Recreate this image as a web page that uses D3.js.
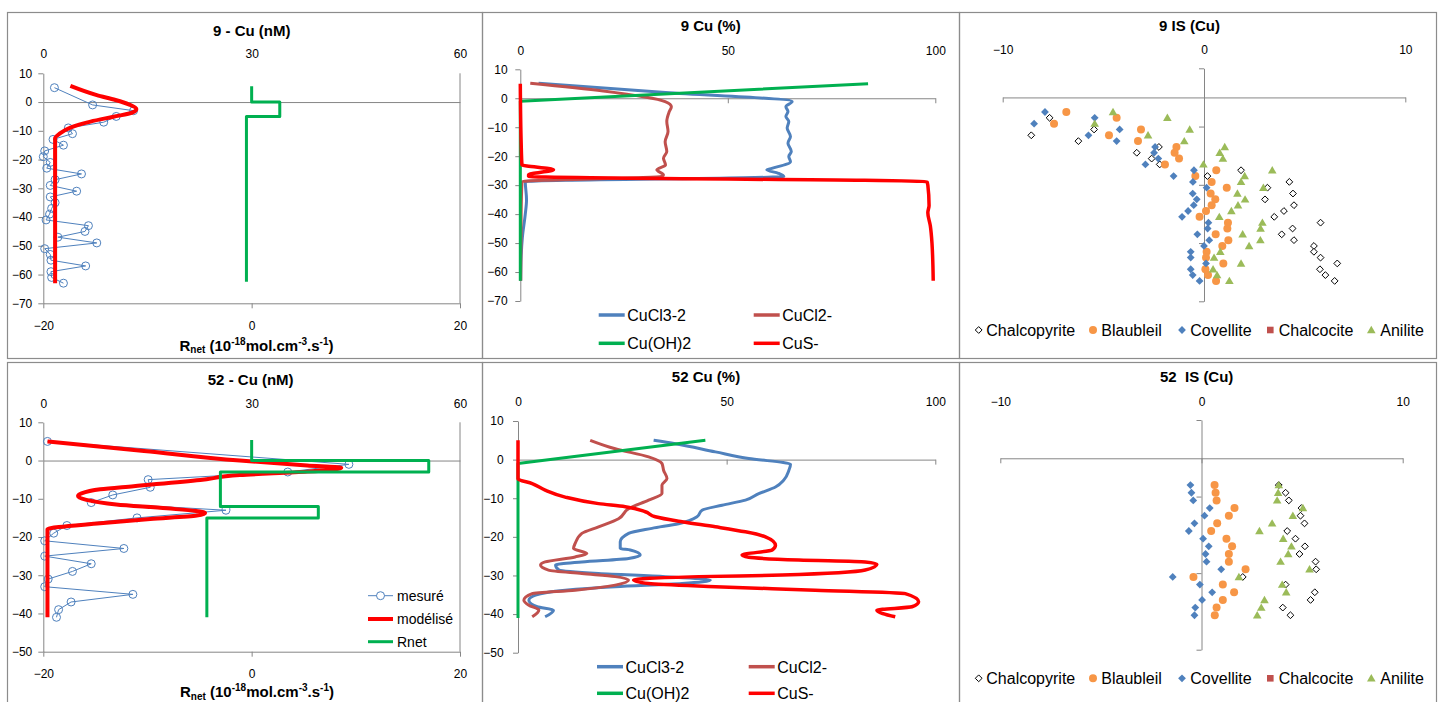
<!DOCTYPE html>
<html><head><meta charset="utf-8">
<script src="https://cdn.jsdelivr.net/npm/d3@7"></script>
<style>
html,body{margin:0;padding:0;background:#fff;}
svg{display:block;}
</style></head><body>
<script>
// ---------------- DATA ----------------
// Panel "9 - Cu (nM)"
const cu9MeasDepth = [5,-1,-3,-5,-7,-9,-11,-13,-15,-17,-19,-21,-23,-25,-27,-29,-31,-33,-35,-37,-39,-41,-43,-45,-47,-49,-51,-53,-55,-57,-59,-61,-63];
const cu9MeasNM = [1.6,7.1,13,10.5,8.7,3.6,4.2,1.4,2.9,0.2,0,1.0,0.5,5.5,1.7,1.0,4.8,1.0,1.7,1.2,0.9,0.4,6.5,6.0,2.1,7.7,0.2,1.0,1.1,6.1,1.1,1.2,2.9];
const cu9Model = [[3.9,5.6],[7.7,2.4],[10.4,0.7],[12.3,-0.8],[13.4,-2.4],[12.8,-3.7],[10.1,-5.1],[6.8,-6.8],[3.9,-8.9],[2.4,-10.9],[1.7,-12.6],[1.7,-30],[1.7,-63]];
const cu9Rnet = [[0,5.5],[0,0],[2.7,0],[2.7,-5],[-0.5,-5],[-0.5,-62.5]];

// Panel "52 - Cu (nM)"
const cu52MeasDepth = [5,-1,-3,-5,-7,-9,-11,-13,-15,-17,-19,-21,-23,-25,-27,-29,-31,-33,-35,-37,-39,-41];
const cu52MeasNM = [0.6,44,35.2,15.1,15.4,10,6.9,26.3,13.5,3.4,1.5,0.2,11.6,0.2,6.9,4.2,0.7,0.2,12.9,4.0,2.2,1.9];
const cu52Model = [[0.6,5],[14.5,2.5],[28.3,0],[38,-1.3],[42.9,-1.9],[38,-2.9],[28.3,-3.8],[22.6,-5.1],[13,-6.7],[8.2,-7.5],[5.5,-8.6],[5.0,-9.3],[6.2,-10.3],[10.5,-11.5],[17.8,-12.5],[23.3,-13.7],[22.1,-14.4],[15.4,-15.3],[8.2,-16.4],[0.6,-18],[0.6,-30],[0.6,-41]];
const cu52Rnet = [[0,5.4],[0,0],[17,0],[17,-3],[-3,-3],[-3,-12],[6.4,-12],[6.4,-15],[-4.3,-15],[-4.3,-41]];

// Panel "9 Cu (%)"
const sp9CuCl3 = [[4.4,5.2],[35,2],[65.5,-1.15],[64,-2.9],[64.5,-4.6],[64,-6.3],[64.7,-8],[64.3,-10.3],[65.1,-13.2],[64.5,-15.5],[65.3,-18.4],[64.7,-20.1],[65.1,-21.9],[60.6,-24.2],[59.4,-24.7],[62.2,-25.9],[63.5,-27],[1.2,-28.8],[1.5,-35],[1.2,-40],[0.5,-48],[0.2,-55],[0.1,-63]];
const sp9CuCl2 = [[2.4,5.2],[20,2.5],[34.9,-1.15],[36.4,-2.9],[35.9,-4.6],[35.3,-8],[35.6,-11.5],[34.9,-15],[35.3,-18.4],[34.5,-20.7],[35,-23],[32.9,-24.7],[34.5,-26.5],[34.1,-27],[0.4,-28.8],[0.2,-40],[0.1,-63]];
const sp9CuOH2 = [[83.8,5],[0,-1],[0,-63]];
const sp9CuS = [[0,5],[0.2,-15],[0.4,-23],[8,-24.7],[2,-26.4],[2,-27],[98,-28.8],[98.2,-30],[98.5,-37],[98.2,-39.5],[98.8,-44],[99.2,-50],[99.5,-63]];

// Panel "52 Cu (%)"
const sp52CuCl3 = [[32.5,5],[37.7,4.1],[47.3,2],[55.3,0.3],[65.3,-1.2],[64.9,-2.8],[63.7,-5.3],[61.7,-7.1],[57.7,-8.8],[54.5,-10.5],[48.9,-11.8],[44.1,-13.1],[42.9,-14.8],[38.5,-16.6],[32.1,-17.8],[26.5,-19.1],[24.5,-21.3],[24.5,-23],[26.9,-23.4],[29.3,-24.7],[26.5,-25.6],[15.3,-26.5],[9,-27.3],[9.8,-28.6],[19.3,-29.5],[35.3,-30.3],[46.1,-31.2],[39.3,-32.1],[23.3,-32.9],[11.3,-33.8],[4.2,-35.1],[2.6,-36.4],[4.6,-38.1],[8.5,-39],[6.5,-40.7]];
const sp52CuCl2 = [[17.3,5],[23.3,2.8],[31.3,0.7],[34.5,-1],[34.9,-2.8],[35.7,-4.9],[34.5,-6.6],[34.5,-8.8],[31.3,-10.5],[26.5,-12.7],[24.1,-15.3],[19.3,-17.4],[15.3,-19.1],[13.7,-21.7],[13.3,-23],[16.5,-24.3],[13.7,-25.2],[6.5,-26.5],[5.4,-27.3],[7.3,-28.6],[15.3,-29.5],[23.3,-30.3],[26.5,-31.2],[23.3,-32.5],[13.7,-33.8],[3.4,-34.7],[1.4,-36.4],[2.6,-37.7],[5,-39],[3.4,-40.7]];
const sp52CuOH2 = [[44.9,5],[0,-1],[0,-41]];
const sp52CuS = [[0,5],[0,-4],[0,-5],[3.4,-6.2],[6.5,-7.9],[11.3,-9.7],[19.3,-11.4],[25.7,-12.2],[30.5,-13.5],[32.9,-14.8],[39.3,-16.1],[47.3,-17.4],[54.5,-18.7],[59.3,-20],[61.7,-22.2],[60.9,-23.4],[53.7,-24.7],[55.3,-25.3],[67.3,-26],[83.2,-26.5],[86,-27.1],[83.2,-28.6],[63.3,-29.9],[43.3,-30.3],[27.7,-31.2],[31.3,-32.1],[47.3,-32.9],[71.2,-33.8],[92.8,-34.7],[96,-36.8],[94.4,-38.1],[86,-39],[90.4,-40.7]];

// Panel "9 IS (Cu)"
const is9Depth = [-5,-7,-9,-11,-13,-15,-17,-19,-21,-23,-25,-27,-29,-31,-33,-35,-37,-39,-41,-43,-45,-47,-49,-51,-53,-55,-57,-59,-61,-63];
const is9Chalcopyrite = [null,-7.67,null,-5.46,-8.58,-6.24,-2.24,-3.34,-2.6,-2.2,1.84,0.17,4.24,3.15,4.42,3.03,4.47,3.97,3.49,5.79,4.4,3.86,4.47,5.46,5.46,5.79,6.62,5.76,6.03,6.49];
const is9Blaubleil = [-6.84,-4.34,-7.45,-3.13,-4.72,-3.28,-1.37,-1.46,-1.24,-1.94,0.61,-0.43,0.38,1.13,0.33,0.56,0.38,0.1,-0.22,1.19,1.16,0.58,1.21,0.91,0.13,0.1,0.96,0.07,0.2,0.6];
const is9Covellite = [-7.9,-5.43,-8.44,-4.19,-5.74,-4.34,-2.43,-2.48,-2.27,-2.91,-0.5,-1.51,-0.55,0.13,-0.56,-0.36,-0.51,-0.79,-1.09,0.22,0.18,-0.33,0.26,0,-0.66,-0.66,0.1,-0.66,-0.56,-0.22];
const is9Chalcocite = [];
const is9Anilite = [-4.52,-1.82,-5.43,-0.71,-2.78,-0.98,1.03,0.78,0.94,-0.03,3.39,2.02,1.84,2.95,1.66,2.04,1.69,1.36,0.76,2.9,2.81,1.92,2.8,2.24,0.81,0.5,1.84,0.45,0.65,1.26];

// Panel "52 IS (Cu)"
const is52Depth = [-7,-9,-11,-13,-15,-17,-19,-21,-23,-25,-27,-29,-31,-33,-35,-37,-39,-41];
const is52Chalcopyrite = [3.84,4.18,4.34,4.97,4.92,5.12,4.26,4.67,5.14,4.87,5.67,5.7,2.05,4.18,5.63,5.42,4.04,4.42];
const is52Blaubleil = [0.65,0.7,0.75,1.64,1.36,0.78,0.48,1.24,1.52,1.36,1.36,2.19,-0.4,1.06,1.62,1.06,0.75,0.66];
const is52Covellite = [-0.55,-0.5,-0.41,0.41,0.15,-0.35,-0.63,0.08,0.36,0.2,0.25,0.98,-1.43,-0.08,0.53,0.03,-0.31,-0.35];
const is52Chalcocite = [];
const is52Anilite = [3.84,3.81,3.76,5.04,4.54,3.51,2.88,4.06,4.47,4.31,3.93,5.37,1.86,4.01,4.21,3.13,2.97,2.77];

// tick values / labels
const depthTicks9 = [10,0,-10,-20,-30,-40,-50,-60,-70];
const depthTicks52 = [10,0,-10,-20,-30,-40,-50];
const rnetTicks = [-20,0,20];
const nMTicks = [0,30,60];
const pctTicks = [0,50,100];
const isTicks = [-10,0,10];
const isDepthTicks9 = [10,-10,-30,-50,-70];
const isDepthTicks52 = [10,-10,-30,-50];
const speciesNames = ['CuCl3-2','CuCl2-','Cu(OH)2','CuS-'];
const mineralNames = ['Chalcopyrite','Blaubleil','Covellite','Chalcocite','Anilite'];
const profileLegend = ['mesuré','modélisé','Rnet'];

// ---------------- DRAWING ----------------
const FONT = "'Liberation Sans', Arial, Helvetica, sans-serif";
const AX = '#868686', BORDER = '#8c8c8c';
const C_BLUE = '#4F81BD', C_BROWN = '#C0504D', C_GREEN = '#00B050', C_RED = '#FF0000';
const C_ORANGE = '#F79646', C_OLIVE = '#9BBB59';

const svg = d3.select('body').append('svg').attr('width',1440).attr('height',702)
  .attr('font-family',FONT);
svg.append('rect').attr('width',1440).attr('height',702).attr('fill','#fff');

function border(x0,y0,x1,y1){
  svg.append('rect').attr('x',x0+0.5).attr('y',y0+0.5).attr('width',x1-x0).attr('height',y1-y0)
    .attr('fill','none').attr('stroke',BORDER).attr('stroke-width',1.2);
}
border(7,12,482,358); border(482,12,959,358); border(959,12,1436,358);
border(7,362,482,712); border(482,362,959,712); border(959,362,1436,712);

function styleAxis(g, noDomain){
  g.attr('font-family',FONT).attr('font-size',12);
  g.select('.domain').attr('stroke',noDomain?'none':AX);
  g.selectAll('.tick line').attr('stroke',AX);
  g.selectAll('.tick text').attr('fill','#000');
}
function title(x,y,t){
  svg.append('text').attr('x',x).attr('y',y).attr('text-anchor','middle')
    .attr('font-weight','bold').attr('font-size',15).text(t);
}
function rnetTitle(x,y){
  const t = svg.append('text').attr('x',x).attr('y',y).attr('font-weight','bold').attr('font-size',15);
  t.append('tspan').text('R');
  t.append('tspan').attr('font-size',10).attr('dy',2.5).text('net');
  t.append('tspan').attr('dy',-2.5).text(' (10');
  t.append('tspan').attr('font-size',10).attr('dy',-6).text('-18');
  t.append('tspan').attr('dy',6).text('mol.cm');
  t.append('tspan').attr('font-size',10).attr('dy',-6).text('-3');
  t.append('tspan').attr('dy',6).text('.s');
  t.append('tspan').attr('font-size',10).attr('dy',-6).text('-1');
  t.append('tspan').attr('dy',6).text(')');
}
function pathLine(data,x,y,color,width,curve){
  svg.append('path').datum(data)
    .attr('d',d3.line().x(d=>x(d[0])).y(d=>y(d[1])).curve(curve||d3.curveLinear))
    .attr('fill','none').attr('stroke',color).attr('stroke-width',width)
    .attr('stroke-linejoin','round').attr('stroke-linecap','butt');
}

// ---- profile panels (nM / Rnet) ----
function profilePanel(opt){
  const {yDom,yRange,xRange,ticks,topBase,botPad,measDepth,measNM,model,rnet} = opt;
  const y = d3.scaleLinear(yDom,yRange);
  const xR = d3.scaleLinear([-20,20],xRange);
  const xC = d3.scaleLinear([0,60],xRange);
  svg.append('g').attr('transform',`translate(${xR(-20)},0)`)
    .call(d3.axisLeft(y).tickValues(ticks).tickSize(5).tickSizeOuter(0).tickPadding(6)).call(styleAxis);
  svg.append('g').attr('transform',`translate(0,${y(yDom[0])})`)
    .call(d3.axisBottom(xR).tickValues(rnetTicks).tickSize(5).tickSizeOuter(0).tickPadding(botPad)).call(styleAxis);
  svg.append('g').attr('transform',`translate(0,${y(0)})`)
    .call(d3.axisTop(xC).tickValues(nMTicks).tickSize(0).tickSizeOuter(0).tickPadding(y(0)-topBase)).call(styleAxis);
  svg.append('line').attr('x1',xR(20)).attr('x2',xR(20)).attr('y1',y(yDom[1])).attr('y2',y(yDom[0]))
    .attr('stroke',AX);
  const meas = measDepth.map((d,i)=>[measNM[i],d]);
  pathLine(meas,xC,y,C_BLUE,1);
  svg.append('g').selectAll('circle').data(meas).join('circle')
    .attr('cx',d=>xC(d[0])).attr('cy',d=>y(d[1])).attr('r',4)
    .attr('fill','none').attr('stroke',C_BLUE).attr('stroke-width',1);
  pathLine(model,xC,y,C_RED,4,d3.curveMonotoneY);
  pathLine(rnet,xR,y,C_GREEN,3);
  return {y,xR,xC};
}

title(251.7,35.7,'9 - Cu (nM)');
profilePanel({yDom:[-70,10],yRange:[303.3,73.3],xRange:[43.3,460],ticks:depthTicks9,topBase:57.8,botPad:13,
  measDepth:cu9MeasDepth,measNM:cu9MeasNM,model:cu9Model,rnet:cu9Rnet});
rnetTitle(179.5,350.7);

title(250.7,385.3,'52 - Cu (nM)');
profilePanel({yDom:[-50,10],yRange:[651.7,422.3],xRange:[43.3,460],ticks:depthTicks52,topBase:408.3,botPad:13,
  measDepth:cu52MeasDepth,measNM:cu52MeasNM,model:cu52Model,rnet:cu52Rnet});
rnetTitle(180,697);

// legend for panel 52 nM
(function(){
  const ys=[595.7,619,641.7], cols=[C_BLUE,C_RED,C_GREEN], ws=[1,4,3];
  profileLegend.forEach((n,i)=>{
    svg.append('line').attr('x1',368).attr('x2',393).attr('y1',ys[i]).attr('y2',ys[i])
      .attr('stroke',cols[i]).attr('stroke-width',ws[i]);
    if(i===0) svg.append('circle').attr('cx',380.5).attr('cy',ys[i]).attr('r',4)
      .attr('fill','#fff').attr('stroke',C_BLUE);
    svg.append('text').attr('x',397).attr('y',ys[i]+5).attr('font-size',14).text(n);
  });
})();

// ---- speciation panels (%) ----
function specPanel(opt){
  const {yDom,yRange,xRange,ticks,topBase,leftPad,series,legY} = opt;
  const y = d3.scaleLinear(yDom,yRange);
  const x = d3.scaleLinear([0,100],xRange);
  svg.append('g').attr('transform',`translate(${x(0)},0)`)
    .call(d3.axisLeft(y).tickValues(ticks).tickSize(5).tickSizeOuter(0).tickPadding(leftPad)).call(styleAxis);
  svg.append('g').attr('transform',`translate(0,${y(0)})`)
    .call(d3.axisBottom(x).tickValues(pctTicks).tickSize(5).tickSizeOuter(0).tickFormat('')).call(styleAxis);
  svg.append('g').attr('transform',`translate(0,${y(0)})`)
    .call(d3.axisTop(x).tickValues(pctTicks).tickSize(0).tickSizeOuter(0).tickPadding(y(0)-topBase)).call(s=>styleAxis(s,true));
  const cols=[C_BLUE,C_BROWN,C_GREEN,C_RED], ws=[3,3,3,3.5];
  const curves=[d3.curveMonotoneY,d3.curveMonotoneY,d3.curveLinear,d3.curveMonotoneY];
  series.forEach((s,i)=>pathLine(s,x,y,cols[i],ws[i],curves[i]));
  const lx=[legY.x1,legY.x2];
  speciesNames.forEach((n,i)=>{
    const cx = lx[i%2], cy = legY.rows[Math.floor(i/2)];
    svg.append('line').attr('x1',cx).attr('x2',cx+26).attr('y1',cy).attr('y2',cy)
      .attr('stroke',cols[i]).attr('stroke-width',3.5);
    svg.append('text').attr('x',cx+28.5).attr('y',cy+6).attr('font-size',16).text(n);
  });
}
title(710.7,31,'9 Cu (%)');
specPanel({yDom:[-70,10],yRange:[301,69.3],xRange:[520.3,935.3],ticks:depthTicks9,topBase:55,leftPad:7.6,
  series:[sp9CuCl3,sp9CuCl2,sp9CuOH2,sp9CuS],legY:{x1:598.7,x2:753.7,rows:[315,343.3]}});
title(706,381.7,'52 Cu (%)');
specPanel({yDom:[-50,10],yRange:[652.7,421],xRange:[518,935.3],ticks:depthTicks52,topBase:406,leftPad:9.3,
  series:[sp52CuCl3,sp52CuCl2,sp52CuOH2,sp52CuS],legY:{x1:597,x2:748.7,rows:[666.7,693.3]}});

// ---- saturation index panels ----
const shapes = {
  diamondOpen: 'M0,-3.4L3.4,0L0,3.4L-3.4,0Z',
  diamond: 'M0,-3.9L3.9,0L0,3.9L-3.9,0Z',
  square: 'M-3.3,-3.3H3.3V3.3H-3.3Z',
  triangle: 'M0,-4.2L4.3,3.2L-4.3,3.2Z'
};
const mineralStyle = [
  {shape:'diamondOpen',fill:'#fff',stroke:'#000'},
  {shape:'circle',fill:C_ORANGE,stroke:'none'},
  {shape:'diamond',fill:C_BLUE,stroke:'none'},
  {shape:'square',fill:C_BROWN,stroke:'none'},
  {shape:'triangle',fill:C_OLIVE,stroke:'none'}
];
function marker(g,st,x,y){
  if(st.shape==='circle') g.append('circle').attr('cx',x).attr('cy',y).attr('r',4).attr('fill',st.fill);
  else g.append('path').attr('d',shapes[st.shape]).attr('transform',`translate(${x},${y})`)
    .attr('fill',st.fill).attr('stroke',st.stroke).attr('stroke-width',st.stroke==='none'?0:1);
}
function isPanel(opt){
  const {yDom,yRange,xRange,dticks,topBase,depth,values,legY} = opt;
  const y = d3.scaleLinear(yDom,yRange);
  const x = d3.scaleLinear([-10,10],xRange);
  svg.append('g').attr('transform',`translate(${x(0)},0)`)
    .call(d3.axisLeft(y).tickValues(dticks).tickSize(5).tickSizeOuter(0).tickFormat('')).call(styleAxis);
  svg.append('g').attr('transform',`translate(0,${y(0)})`)
    .call(d3.axisBottom(x).tickValues(isTicks).tickSize(5).tickSizeOuter(0).tickFormat('')).call(styleAxis);
  svg.append('g').attr('transform',`translate(0,${y(0)})`)
    .call(d3.axisTop(x).tickValues(isTicks).tickSize(0).tickSizeOuter(0).tickPadding(y(0)-topBase)).call(s=>styleAxis(s,true));
  const g = svg.append('g');
  values.forEach((vals,k)=>{
    vals.forEach((v,i)=>{ if(v!==null && v!==undefined) marker(g,mineralStyle[k],x(v),y(depth[i])); });
  });
  const mx=[978.7,1093,1182,1270.3,1371.3], tx=[986.3,1101.3,1190.3,1278.7,1380.3];
  mineralNames.forEach((n,k)=>{
    marker(svg,mineralStyle[k],mx[k],legY);
    svg.append('text').attr('x',tx[k]).attr('y',legY+5.5).attr('font-size',16).text(n);
  });
}
title(1189.5,30.7,'9 IS (Cu)');
isPanel({yDom:[-70,10],yRange:[301.3,68.3],xRange:[1002.7,1405.3],dticks:isDepthTicks9,topBase:54.3,
  depth:is9Depth,values:[is9Chalcopyrite,is9Blaubleil,is9Covellite,is9Chalcocite,is9Anilite],legY:330});
title(1196.7,381.7,'52\u00a0 IS (Cu)');
isPanel({yDom:[-50,10],yRange:[649.7,420],xRange:[1000.3,1402.7],dticks:isDepthTicks52,topBase:405.7,
  depth:is52Depth,values:[is52Chalcopyrite,is52Blaubleil,is52Covellite,is52Chalcocite,is52Anilite],legY:678.3});
</script>
</body></html>
